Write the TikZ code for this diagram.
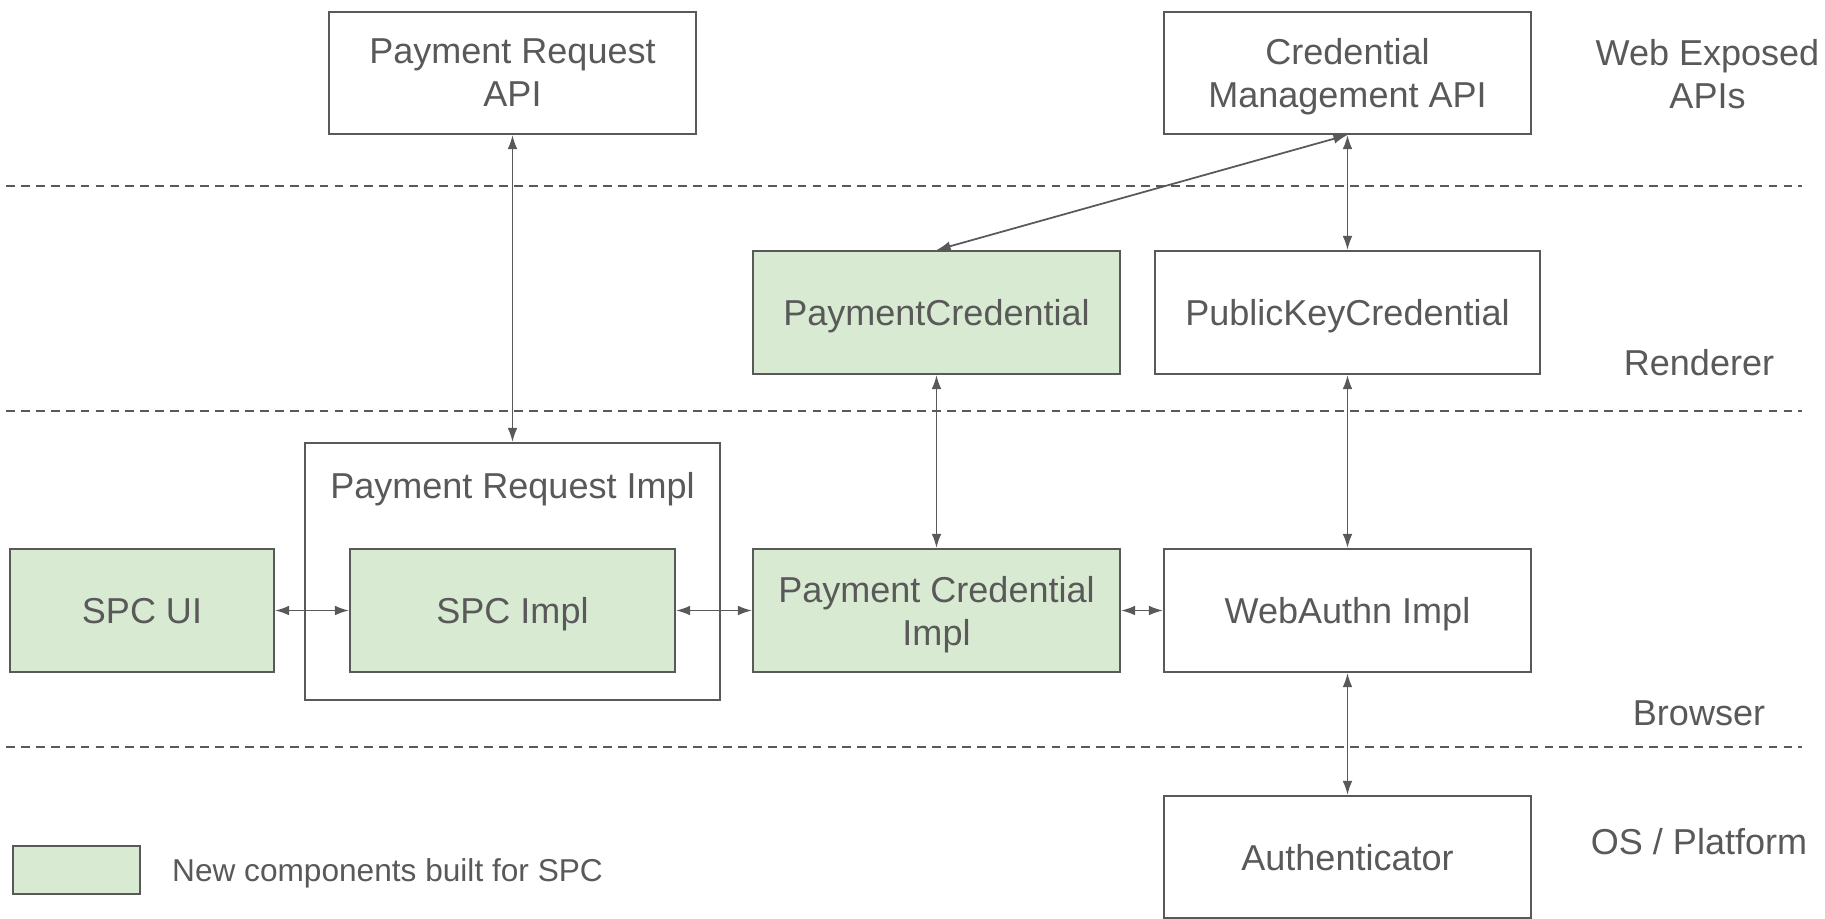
\documentclass[tikz,border=0pt]{standalone}
\usepackage{fontspec}
\setmainfont{Liberation Sans}
\usetikzlibrary{arrows.meta,positioning}

\definecolor{linegray}{HTML}{595959}
\definecolor{spcgreen}{HTML}{D9EAD3}

\begin{document}
\begin{tikzpicture}[>={Latex[length=8pt,width=5.5pt]},
  box/.style={draw=linegray,line width=1.1pt,minimum width=7.34cm,minimum height=2.46cm,
    align=center,text=linegray,inner sep=2pt,text depth=0pt,font=\fontsize{20.5}{24.5}\selectfont},
  newbox/.style={box,fill=spcgreen},
  layer/.style={text=linegray,align=center,text depth=0pt,font=\fontsize{20.5}{24.5}\selectfont},
  link/.style={<->,draw=linegray,line width=1pt}]
  \useasboundingbox (0,0) rectangle (36.5,-18.38);

  % layer separators
  \foreach \y in {-3.72,-8.22,-14.94}
    \draw[linegray,line width=0.9pt,dash pattern=on 5pt off 3.5pt] (0.12,\y) -- (36.04,\y);

  % web exposed APIs
  \node[box,minimum height=2.44cm] (prapi) at (10.25,-1.46) {Payment Request\\API};
  \node[box,minimum height=2.44cm] (cmapi) at (26.95,-1.46) {Credential\\Management API};

  % renderer
  \node[newbox] (paycred) at (18.73,-6.25) {PaymentCredential};
  \node[box,minimum width=7.7cm] (pkcred) at (26.95,-6.25) {PublicKeyCredential};

  % browser
  \node[box,minimum width=8.3cm,minimum height=5.14cm] (primpl) at (10.25,-11.43) {};
  \node[layer] (prtitle) at (10.25,-9.7) {Payment Request Impl};
  \node[newbox,minimum width=5.28cm] (spcui) at (2.84,-12.21) {SPC UI};
  \node[newbox,minimum width=6.5cm] (spcimpl) at (10.25,-12.21) {SPC Impl};
  \node[newbox] (pcimpl) at (18.73,-12.21) {Payment Credential\\Impl};
  \node[box] (waimpl) at (26.95,-12.21) {WebAuthn Impl};

  % os / platform
  \node[box,minimum height=2.44cm] (authn) at (26.95,-17.14) {Authenticator};

  % layer names
  \node[layer] (webexp) at (34.15,-1.47) {Web Exposed\\APIs};
  \node[layer] (renderer) at (33.98,-7.24) {Renderer};
  \node[layer] (browser) at (33.98,-14.26) {Browser};
  \node[layer] (osplat) at (33.98,-16.82) {OS / Platform};

  % legend
  \node[newbox,minimum width=2.54cm,minimum height=0.96cm] (legendbox) at (1.53,-17.4) {};
  \node[text=linegray,text depth=0pt,font=\fontsize{18}{21}\selectfont,right=0.5cm of legendbox] (legendtext)
    {New components built for SPC};

  \draw[link] (prapi.south) -- (primpl.north);
  \draw[link] (cmapi.south) -- (paycred.north);
  \draw[link] (cmapi.south) -- (pkcred.north);
  \draw[link] (paycred.south) -- (pcimpl.north);
  \draw[link] (pkcred.south) -- (waimpl.north);
  \draw[link] (spcui.east) -- (spcimpl.west);
  \draw[link] (spcimpl.east) -- (pcimpl.west);
  \draw[link] (pcimpl.east) -- (waimpl.west);
  \draw[link] (waimpl.south) -- (authn.north);
\end{tikzpicture}
\end{document}
